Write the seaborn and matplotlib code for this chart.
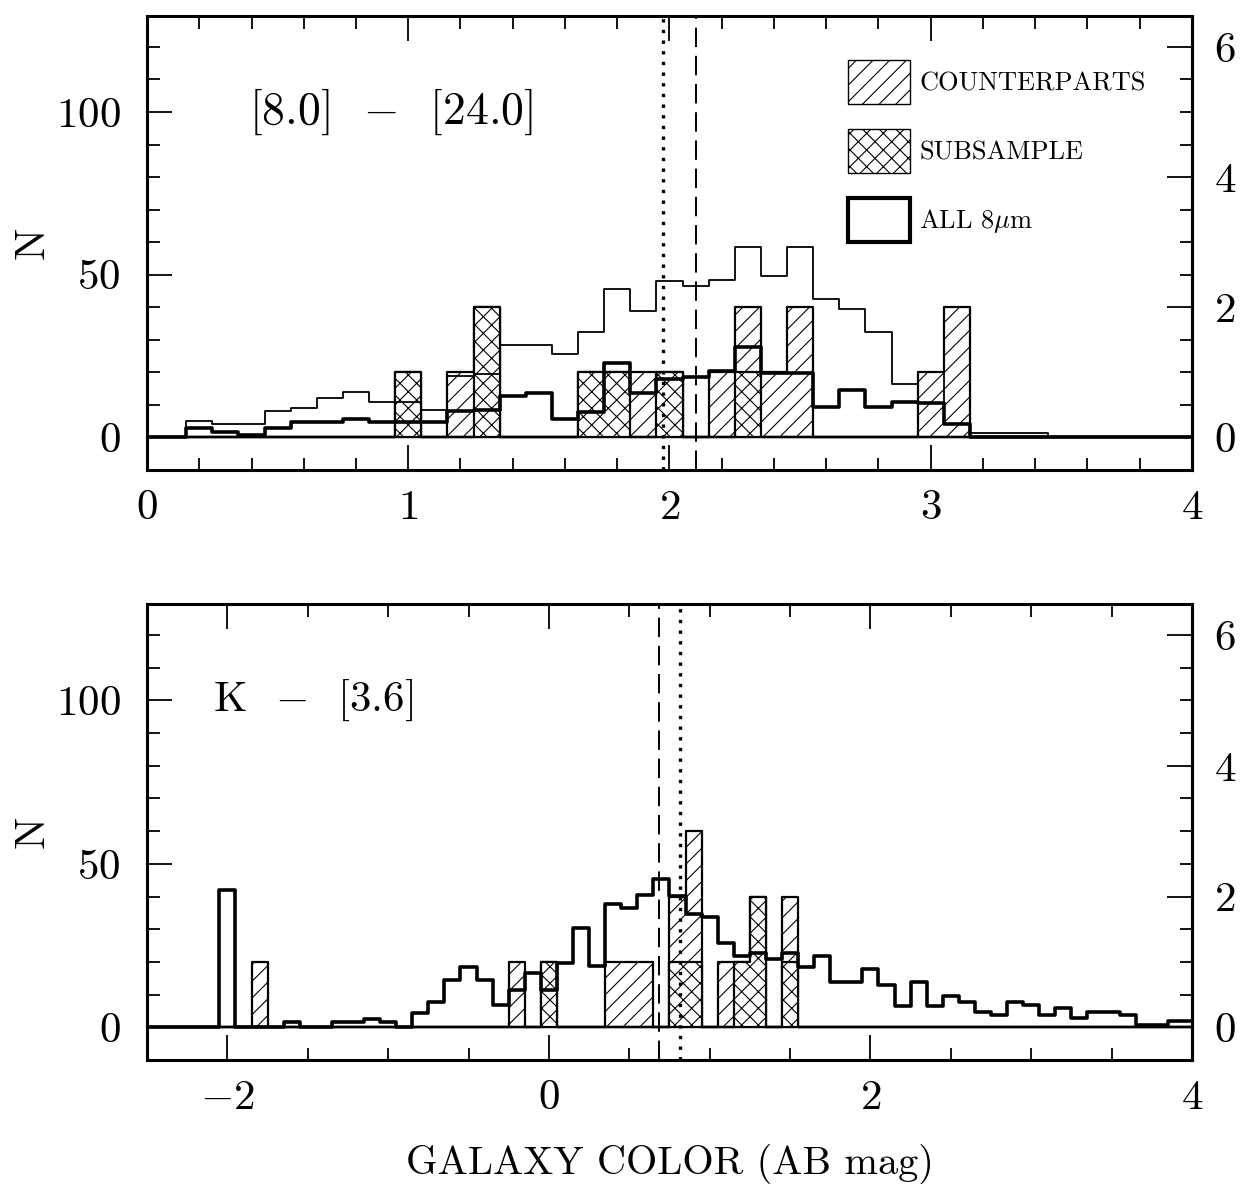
import numpy as np
import matplotlib
matplotlib.use("Agg")
import matplotlib.pyplot as plt
import seaborn as sns
from matplotlib.patches import Patch
from matplotlib.ticker import MultipleLocator, FixedLocator

# ---------------------------------------------------------------- data
# N per 0.1 mag bin, top panel: [8.0]-[24.0], bin centres 0.0 ... 4.0
top_centers = np.round(np.arange(0.0, 4.0001, 0.1), 1)
top_thin = [0, 0, 5, 4, 4, 8, 9, 12, 14, 11,
            11, 8.5, 19, 19.5, 28.5, 28.5, 25.5, 32.5, 45.5, 39,
            48, 46.5, 48.5, 58.5, 49.5, 58.5, 42.5, 39.5, 32.5, 16.5,
            20, 4.2, 1.3, 1.3, 1.3, 0, 0, 0, 0, 0, 0]
top_all = [0, 0, 2.8, 1.7, 0.7, 2.8, 4.8, 4.8, 5.6, 4.8,
           4.8, 4.8, 8, 8.5, 12.6, 13.6, 5.6, 7.9, 22.8, 13.6,
           18, 18.7, 20.5, 27.7, 19.7, 19.7, 9.4, 14.6, 9.4, 10.8,
           10.5, 4.2, 0, 0, 0, 0, 0, 0, 0, 0, 0]
# counterpart / subsample counts (right-hand axis)
top_cp_x = [1.0, 1.2, 1.3, 1.7, 1.8, 1.9, 2.0, 2.2, 2.3, 2.4, 2.5, 3.0, 3.1]
top_cp_n = [1, 1, 2, 1, 1, 1, 1, 1, 2, 1, 2, 1, 2]
top_sub_x = [1.0, 1.3, 1.7, 1.8, 2.0, 2.3]
top_sub_n = [1, 2, 1, 1, 1, 1]
top_dotted, top_dashed = 1.975, 2.1

# bottom panel: K-[3.6], bin centres -2.5 ... 4.0
bot_centers = np.round(np.arange(-2.5, 4.0001, 0.1), 1)
bot_all = [0, 0, 0, 0, 0, 42, 0, 0, 0, 1.5,
           0, 0, 1.5, 1.5, 2.4, 1.5, 0,
           4.5, 7.6, 14.5, 18.4, 14.5, 6.8, 11.4, 16.5, 11.4,
           19.6, 30.3, 18.7, 37.6, 36.6, 40.5, 45.5, 40.2, 34.8, 33.7,
           25.8, 21.7, 22.7, 21.0, 22.7, 18.6, 21.7, 13.8, 13.8, 17.7,
           12.8, 6.6, 13.8, 6.6, 9.7, 7.9, 4.8, 3.9, 7.9, 6.9,
           3.9, 5.8, 2.9, 4.8, 4.8, 3.9, 0.8, 0.8, 2.0, 2.0]
bot_cp_x = [-1.8, -0.2, 0.0, 0.4, 0.5, 0.6, 0.8, 0.9, 1.1, 1.2, 1.3, 1.5]
bot_cp_n = [1, 1, 1, 1, 1, 1, 2, 3, 1, 1, 2, 2]
bot_sub_x = [0.0, 0.8, 0.9, 1.2, 1.3, 1.5]
bot_sub_n = [1, 1, 1, 1, 2, 1]
bot_dashed, bot_dotted = 0.685, 0.815

SCALE = 20  # one counterpart = 20 on the N axis

# ---------------------------------------------------------------- style
sns.set_style("ticks")
plt.rcParams.update({
    "font.family": ["cmr10", "DejaVu Serif"],
    "mathtext.fontset": "cm",
    "axes.formatter.use_mathtext": True,
    "hatch.linewidth": 0.8,
    "hatch.color": "black",
    "axes.edgecolor": "black",
    "axes.labelcolor": "black",
    "xtick.color": "black",
    "ytick.color": "black",
    "text.color": "black",
})

FS = 31
fig = plt.figure(figsize=(12.48, 11.84), dpi=100)
ax_top = fig.add_axes([0.1178, 0.6030, 0.8373, 0.3835])
ax_bot = fig.add_axes([0.1178, 0.1047, 0.8373, 0.3852])


def edges_for(centers):
    return [float(e) for e in np.append(centers - 0.05, centers[-1] + 0.05)]


def draw_panel(ax, centers, thin, thick, cp_x, cp_n, sub_x, sub_n):
    edges = edges_for(centers)
    # hatched outlines of the counterpart and subsample histograms
    sns.histplot(x=cp_x, weights=[n * SCALE for n in cp_n], bins=edges,
                 element="step", fill=True, color="white", alpha=1,
                 edgecolor="black", linewidth=1.6, hatch="//", zorder=1, ax=ax)
    sns.histplot(x=sub_x, weights=[n * SCALE for n in sub_n], bins=edges,
                 element="step", fill=True, color="white", alpha=1,
                 edgecolor="black", linewidth=1.6, hatch="xx", zorder=1.5, ax=ax)
    if thin is not None:
        sns.histplot(x=list(centers), weights=thin, bins=edges, element="step",
                     fill=False, color="black", linewidth=1.3, zorder=3, ax=ax)
    sns.histplot(x=list(centers), weights=thick, bins=edges, element="step",
                 fill=False, color="black", linewidth=2.6, zorder=4, ax=ax)

    ax.set_ylim(-10, 129.5)
    ax.yaxis.set_major_locator(FixedLocator([0, 50, 100]))
    ax.yaxis.set_minor_locator(MultipleLocator(10))
    ax.set_ylabel("N", fontsize=FS, labelpad=3)
    ax.set_xlabel("")
    ax.tick_params(which="both", direction="in", top=True, right=False,
                   width=1.3, labelsize=FS)
    ax.tick_params(which="major", length=18)
    ax.tick_params(which="minor", length=9)
    ax.tick_params(axis="x", pad=14)
    ax.tick_params(axis="y", pad=19)
    for s in ax.spines.values():
        s.set_linewidth(2.2)
        s.set_visible(True)

    sec = ax.secondary_yaxis("right", functions=(lambda n: n / SCALE,
                                                 lambda c: c * SCALE))
    sec.yaxis.set_major_locator(FixedLocator([0, 2, 4, 6]))
    sec.yaxis.set_minor_locator(MultipleLocator(0.5))
    sec.tick_params(which="both", direction="in", width=1.3, labelsize=FS, pad=16)
    sec.tick_params(which="major", length=18)
    sec.tick_params(which="minor", length=9)
    sec.spines["right"].set_linewidth(2.2)


# top panel
draw_panel(ax_top, top_centers, top_thin, top_all,
           top_cp_x, top_cp_n, top_sub_x, top_sub_n)
ax_top.set_xlim(0, 4)
ax_top.xaxis.set_major_locator(MultipleLocator(1))
ax_top.xaxis.set_minor_locator(MultipleLocator(0.2))
ax_top.axvline(top_dotted, color="black", lw=2.4, dashes=(1, 2.2), zorder=5)
ax_top.axvline(top_dashed, color="black", lw=1.4, dashes=(10, 4.5), zorder=5)
ax_top.text(0.39, 100, "[8.0]  $-$  [24.0]", fontsize=33, va="center", ha="left")

handles = [
    Patch(facecolor="white", edgecolor="black", hatch="//", linewidth=1.0),
    Patch(facecolor="white", edgecolor="black", hatch="xx", linewidth=1.0),
    Patch(facecolor="white", edgecolor="black", linewidth=3.0),
]
labels = ["COUNTERPARTS", "SUBSAMPLE", "ALL 8$\\mu$m"]
ax_top.legend(handles, labels, loc="upper left", bbox_to_anchor=(0.671, 0.903),
              frameon=False, fontsize=19, handlelength=2.35, handleheight=2.2,
              labelspacing=0.93, handletextpad=0.35, borderpad=0,
              borderaxespad=0)

# bottom panel
draw_panel(ax_bot, bot_centers, None, bot_all,
           bot_cp_x, bot_cp_n, bot_sub_x, bot_sub_n)
ax_bot.set_xlim(-2.5, 4)
ax_bot.xaxis.set_major_locator(MultipleLocator(2))
ax_bot.xaxis.set_minor_locator(MultipleLocator(0.5))
ax_bot.axvline(bot_dashed, color="black", lw=1.4, dashes=(10, 4.5), zorder=5)
ax_bot.axvline(bot_dotted, color="black", lw=2.4, dashes=(1, 2.2), zorder=5)
ax_bot.text(-2.09, 100, "K  $-$  [3.6]", fontsize=FS, va="center", ha="left")
ax_bot.set_xlabel("GALAXY COLOR (AB mag)", fontsize=29, labelpad=19)

fig.savefig("out.png", dpi=100)
